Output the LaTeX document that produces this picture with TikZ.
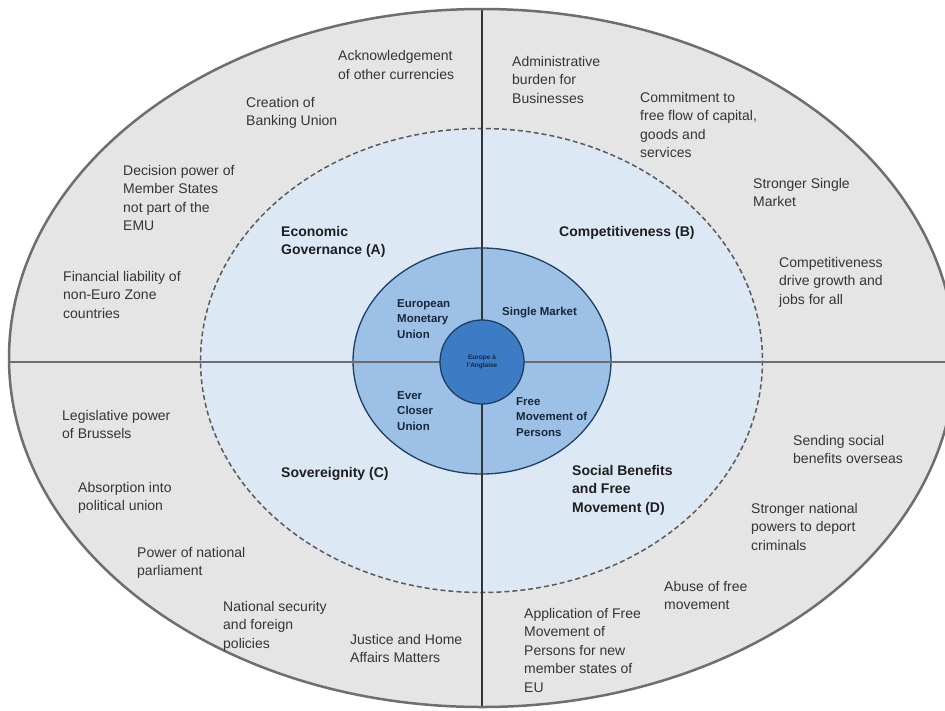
\documentclass[tikz,border=0pt]{standalone}
\usepackage{fontspec}
\setmainfont{Liberation Sans}
\definecolor{outerfill}{HTML}{E5E5E5}
\definecolor{outerline}{HTML}{6E6E6E}
\definecolor{dashline}{HTML}{5A5A5A}
\definecolor{dashfill}{HTML}{DDE8F5}
\definecolor{midfill}{HTML}{9DC1E6}
\definecolor{innerfill}{HTML}{3B7CC4}
\definecolor{ringline}{HTML}{1F3E63}
\definecolor{graytext}{HTML}{353535}
\definecolor{boldtext}{HTML}{1E1E1E}
\definecolor{navytext}{HTML}{17273A}
\tikzset{
  issue/.style={anchor=base west, inner sep=0pt, align=left, text=graytext,
    font=\fontsize{14}{18.5}\selectfont},
  theme/.style={anchor=base west, inner sep=0pt, align=left, text=boldtext,
    font=\bfseries\fontsize{14}{18.8}\selectfont},
  core/.style={anchor=base west, inner sep=0pt, align=left, text=navytext,
    font=\bfseries\fontsize{11.5}{15.6}\selectfont},
}
\begin{document}
\begin{tikzpicture}[x=1pt,y=-1pt]
\useasboundingbox (0,0) rectangle (945,710);
\clip (0,0) rectangle (945,710);
\fill[white] (0,0) rectangle (945,710);
% rings
\path[fill=outerfill] (482,358) ellipse [x radius=473, y radius=349];
\path[fill=dashfill, draw=dashline, line width=1.5pt, dash pattern=on 5pt off 3pt] (481.5,360.5) ellipse [x radius=281, y radius=232];
\path[fill=midfill, draw=ringline, line width=1.3pt] (482,361) ellipse [x radius=129, y radius=113];
% quadrant lines
\coordinate (L) at (9,362);
\coordinate (R) at (945,362);
\coordinate (T) at (482,9);
\coordinate (B) at (482,707);
\draw[outerline, line width=2.2pt] (L) -- (R);
\draw[black!80, line width=1.3pt] (T) -- (B);
\draw[outerline, line width=2.5pt] (482,358) ellipse [x radius=473, y radius=349];
\node[circle, minimum size=84pt, inner sep=0pt, fill=innerfill, draw=ringline, line width=1.3pt,
  align=center, text=navytext, font=\bfseries\fontsize{6.5}{7.5}\selectfont] (core) at (482,362) {Europe à\\l'Anglaise};
% core labels (positions are the baseline of the last line)
\node[core] (emu) at (397,338.2) {European\\Monetary\\Union};
\node[core] (sm) at (502,315) {Single Market};
\node[core] (ecu) at (397,430.2) {Ever\\Closer\\Union};
\node[core] (fmp) at (516,436.2) {Free\\Movement of\\Persons};
% themes
\node[theme] (A) at (281,254.8) {Economic\\Governance (A)};
\node[theme] (Bt) at (559,236) {Competitiveness (B)};
\node[theme] (C) at (281,477) {Sovereignity (C)};
\node[theme] (D) at (572,512.6) {Social Benefits\\and Free\\Movement (D)};
% outer issues A
\node[issue] (a1) at (338,79) {Acknowledgement\\of other currencies};
\node[issue] (a2) at (246,125.5) {Creation of\\Banking Union};
\node[issue] (a3) at (123,230.5) {Decision power of\\Member States\\not part of the\\EMU};
\node[issue] (a4) at (63,318) {Financial liability of\\non-Euro Zone\\countries};
% outer issues B
\node[issue] (b1) at (512,103) {Administrative\\burden for\\Businesses};
\node[issue] (b2) at (640,157.5) {Commitment to\\free flow of capital,\\goods and\\services};
\node[issue] (b3) at (753,206.5) {Stronger Single\\Market};
\node[issue] (b4) at (779,304) {Competitiveness\\drive growth and\\jobs for all};
% outer issues C
\node[issue] (c1) at (62,438.5) {Legislative power\\of Brussels};
\node[issue] (c2) at (78,510.5) {Absorption into\\political union};
\node[issue] (c3) at (137,575.5) {Power of national\\parliament};
\node[issue] (c4) at (223,648) {National security\\and foreign\\policies};
\node[issue] (c5) at (350,662.5) {Justice and Home\\Affairs Matters};
% outer issues D
\node[issue] (d1) at (793,463.5) {Sending social\\benefits overseas};
\node[issue] (d2) at (751,550) {Stronger national\\powers to deport\\criminals};
\node[issue] (d3) at (664,609.5) {Abuse of free\\movement};
\node[issue] (d4) at (524,692) {Application of Free\\Movement of\\Persons for new\\member states of\\EU};
\end{tikzpicture}
\end{document}
